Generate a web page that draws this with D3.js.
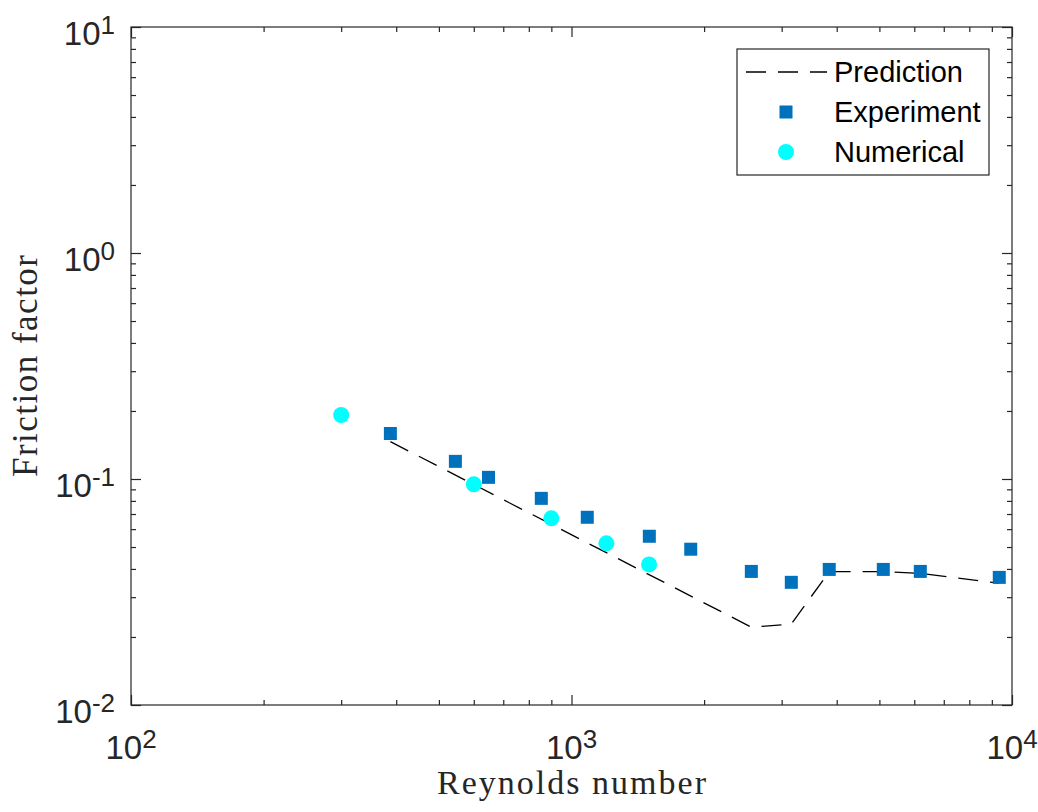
<!DOCTYPE html>
<html>
<head>
<meta charset="utf-8">
<script src="https://cdn.jsdelivr.net/npm/d3@7"></script>
<style>
  html, body { margin: 0; padding: 0; background: #fff; }
  svg { display: block; }
</style>
</head>
<body>
<div id="chart"></div>
<script>
// values
const expRe = [388, 545, 648, 854, 1086, 1502, 1865, 2560, 3155, 3847, 5103, 6192, 9356];
const expF = [0.159, 0.1197, 0.1017, 0.0821, 0.0677, 0.0558, 0.0489, 0.039, 0.0349, 0.0398, 0.0398, 0.039, 0.0367];
const numRe = [300, 600, 900, 1200, 1500];
const numF = [0.192, 0.0947, 0.067, 0.0519, 0.0419];
const predRe = [388, 2560, 3155, 3847, 5103, 6192, 9356];
const predF = [0.1463, 0.0221, 0.0228, 0.0389, 0.0389, 0.0382, 0.0346];
const xMajor = [100, 1000, 10000], xMajorExp = ['2', '3', '4'];
const yMajor = [0.01, 0.1, 1, 10], yMajorExp = ['-2', '-1', '0', '1'];
const legendNames = ['Prediction', 'Experiment', 'Numerical'];

const colors = { axis: '#262626', exp: '#0072BD', num: '#00FFFF', pred: '#000' };
const sans = "'Liberation Sans', Arial, Helvetica, sans-serif";
const serif = "'Liberation Serif', 'Times New Roman', serif";

const W = 1038, H = 812;
const margin = { top: 27, right: 26, bottom: 107, left: 131 };
const width = W - margin.left - margin.right;
const height = H - margin.top - margin.bottom;

const root = d3.select('#chart').append('svg').attr('width', W).attr('height', H);
root.append('rect').attr('width', W).attr('height', H).attr('fill', '#fff');
const svg = root.append('g').attr('transform', `translate(${margin.left},${margin.top})`);

const x = d3.scaleLog().domain([100, 10000]).range([0, width]);
const y = d3.scaleLog().domain([0.01, 10]).range([height, 0]);

// minor ticks: 2..9 within each decade
const minorOf = (lo, hi) => {
    const out = [];
    for (let d = lo; d < hi; d *= 10) for (let k = 2; k <= 9; k++) out.push(+(d * k).toPrecision(3));
    return out;
};
const xMinor = minorOf(100, 10000), yMinor = minorOf(0.01, 10);

function styleAxis(g) {
    g.select('.domain').remove();
    g.selectAll('line').attr('stroke', colors.axis).attr('stroke-width', 1.2);
}
// inward ticks on all four sides
svg.append('g').attr('transform', `translate(0,${height})`).call(d3.axisBottom(x).tickValues(xMinor).tickSize(-5).tickFormat('')).call(styleAxis);
svg.append('g').attr('transform', `translate(0,${height})`).call(d3.axisBottom(x).tickValues(xMajor).tickSize(-10).tickFormat('')).call(styleAxis);
svg.append('g').call(d3.axisTop(x).tickValues(xMinor).tickSize(-5).tickFormat('')).call(styleAxis);
svg.append('g').call(d3.axisTop(x).tickValues(xMajor).tickSize(-10).tickFormat('')).call(styleAxis);
svg.append('g').call(d3.axisLeft(y).tickValues(yMinor).tickSize(-5).tickFormat('')).call(styleAxis);
svg.append('g').call(d3.axisLeft(y).tickValues(yMajor).tickSize(-10).tickFormat('')).call(styleAxis);
svg.append('g').attr('transform', `translate(${width},0)`).call(d3.axisRight(y).tickValues(yMinor).tickSize(-5).tickFormat('')).call(styleAxis);
svg.append('g').attr('transform', `translate(${width},0)`).call(d3.axisRight(y).tickValues(yMajor).tickSize(-10).tickFormat('')).call(styleAxis);

svg.append('rect').attr('width', width).attr('height', height)
    .attr('fill', 'none').attr('stroke', colors.axis).attr('stroke-width', 1.2);

// tick labels 10^n
xMajor.forEach((v, i) => {
    const t = svg.append('text').attr('x', x(v)).attr('y', height + 54)
        .attr('text-anchor', 'middle').attr('font-family', sans).attr('fill', colors.axis);
    t.append('tspan').attr('font-size', 33).text('10');
    t.append('tspan').attr('font-size', 26).attr('dy', -11).text(xMajorExp[i]);
});
yMajor.forEach((v, i) => {
    const t = svg.append('text').attr('x', -16).attr('y', y(v) + 18)
        .attr('text-anchor', 'end').attr('font-family', sans).attr('fill', colors.axis);
    t.append('tspan').attr('font-size', 33).text('10');
    t.append('tspan').attr('font-size', 26).attr('dy', -11).text(yMajorExp[i]);
});

// axis titles
root.append('text').attr('x', margin.left + width / 2).attr('y', 794)
    .attr('text-anchor', 'middle').attr('font-family', serif).attr('font-size', 34)
    .attr('textLength', 269).attr('lengthAdjust', 'spacing')
    .attr('fill', colors.axis).text('Reynolds number');
root.append('text').attr('transform', `translate(37,${margin.top + height / 2}) rotate(-90)`)
    .attr('text-anchor', 'middle').attr('font-family', serif).attr('font-size', 35)
    .attr('textLength', 222).attr('lengthAdjust', 'spacing')
    .attr('fill', colors.axis).text('Friction factor');

// prediction line
const line = d3.line().x((d, i) => x(predRe[i])).y(d => y(d));
svg.append('path').datum(predF).attr('d', line)
    .attr('fill', 'none').attr('stroke', colors.pred).attr('stroke-width', 1.3)
    .attr('stroke-dasharray', '20,12');

// experiment squares
const sq = 13;
svg.selectAll('.exp').data(expF).enter().append('rect')
    .attr('x', (d, i) => x(expRe[i]) - sq / 2).attr('y', d => y(d) - sq / 2)
    .attr('width', sq).attr('height', sq).attr('fill', colors.exp);

// numerical circles
svg.selectAll('.num').data(numF).enter().append('circle')
    .attr('cx', (d, i) => x(numRe[i])).attr('cy', d => y(d))
    .attr('r', 8).attr('fill', colors.num);

// legend
const lg = root.append('g').attr('transform', 'translate(737,49)');
lg.append('rect').attr('width', 252).attr('height', 126)
    .attr('fill', '#fff').attr('stroke', colors.axis).attr('stroke-width', 1.2);
const rowY = [23, 63, 103];
lg.append('line').attr('x1', 9).attr('x2', 90).attr('y1', rowY[0]).attr('y2', rowY[0])
    .attr('stroke', colors.pred).attr('stroke-width', 1.3).attr('stroke-dasharray', '20,12');
lg.append('rect').attr('x', 49 - sq / 2).attr('y', rowY[1] - sq / 2).attr('width', sq).attr('height', sq).attr('fill', colors.exp);
lg.append('circle').attr('cx', 49).attr('cy', rowY[2]).attr('r', 8).attr('fill', colors.num);
lg.selectAll('.lt').data(legendNames).enter().append('text')
    .attr('x', 97).attr('y', (d, i) => rowY[i] + 10)
    .attr('font-family', sans).attr('font-size', 29).attr('fill', '#000')
    .text(d => d);
</script>
</body>
</html>
